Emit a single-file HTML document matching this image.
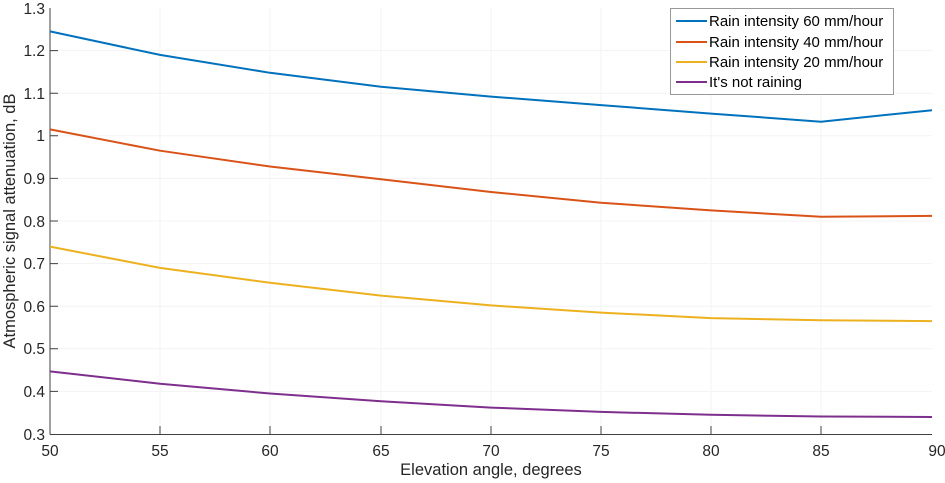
<!DOCTYPE html><html><head><style>body{margin:0;background:#fff}svg{display:block;font-family:"Liberation Sans",sans-serif}</style></head><body>
<svg width="945" height="483" viewBox="0 0 945 483">
<g stroke="#f3f3f3" stroke-width="1">
<line x1="160" y1="8" x2="160" y2="434"/><line x1="270" y1="8" x2="270" y2="434"/><line x1="381" y1="8" x2="381" y2="434"/><line x1="491" y1="8" x2="491" y2="434"/><line x1="601" y1="8" x2="601" y2="434"/><line x1="711" y1="8" x2="711" y2="434"/><line x1="821" y1="8" x2="821" y2="434"/>
<line x1="50" y1="50.6" x2="932" y2="50.6"/><line x1="50" y1="93.2" x2="932" y2="93.2"/><line x1="50" y1="135.8" x2="932" y2="135.8"/><line x1="50" y1="178.4" x2="932" y2="178.4"/><line x1="50" y1="221" x2="932" y2="221"/><line x1="50" y1="263.6" x2="932" y2="263.6"/><line x1="50" y1="306.2" x2="932" y2="306.2"/><line x1="50" y1="348.8" x2="932" y2="348.8"/><line x1="50" y1="391.4" x2="932" y2="391.4"/>
</g>
<g stroke="#404040" stroke-width="1"><line x1="50" y1="8" x2="50" y2="434.5"/><line x1="50" y1="434.5" x2="932" y2="434.5"/>
<path d="M160 434v-8M270 434v-8M381 434v-8M491 434v-8M601 434v-8M711 434v-8M821 434v-8M50 50.6h8M50 93.2h8M50 135.8h8M50 178.4h8M50 221h8M50 263.6h8M50 306.2h8M50 348.8h8M50 391.4h8"/></g>
<g font-size="15.5" fill="#262626" text-anchor="end">
<text x="45" y="14">1.3</text><text x="45" y="56">1.2</text><text x="45" y="99">1.1</text><text x="45" y="141">1</text><text x="45" y="184">0.9</text><text x="45" y="227">0.8</text><text x="45" y="269">0.7</text><text x="45" y="312">0.6</text><text x="45" y="354">0.5</text><text x="45" y="397">0.4</text><text x="45" y="440">0.3</text></g>
<g font-size="15.5" fill="#262626" text-anchor="middle">
<text x="50" y="456">50</text><text x="160" y="456">55</text><text x="270" y="456">60</text><text x="381" y="456">65</text><text x="491" y="456">70</text><text x="601" y="456">75</text><text x="711" y="456">80</text><text x="821" y="456">85</text><text x="937" y="456">90</text>
<text x="491" y="475" font-size="16.5">Elevation angle, degrees</text>
<text transform="translate(15,221) rotate(-90)" font-size="16.5">Atmospheric signal attenuation, dB</text></g>
<g fill="none" stroke-width="2">
<polyline stroke="#0072bd" points="50,31.4 160,54.9 270,72.8 381,86.8 491,96.6 601,105.1 711,113.6 821,121.7 932,110.2"/>
<polyline stroke="#d95319" points="50,129.4 160,150.7 270,166.5 381,179.3 491,192 601,202.7 711,210.4 821,216.7 932,215.9"/>
<polyline stroke="#edb120" points="50,246.6 160,267.9 270,282.8 381,295.6 491,305.4 601,312.6 711,318.1 821,320.3 932,321.1"/>
<polyline stroke="#7e2f8e" points="50,371.4 160,383.7 270,393.5 381,401.2 491,407.6 601,411.9 711,414.8 821,416.5 932,417"/>
</g>
<rect x="670.5" y="8.5" width="223" height="86" fill="#fff" stroke="#999"/>
<g stroke-width="2"><line x1="676" y1="21" x2="707" y2="21" stroke="#0072bd"/><line x1="676" y1="42" x2="707" y2="42" stroke="#d95319"/><line x1="676" y1="62" x2="707" y2="62" stroke="#edb120"/><line x1="676" y1="82" x2="707" y2="82" stroke="#7e2f8e"/></g>
<g font-size="15" fill="#000"><text x="709" y="26">Rain intensity 60 mm/hour</text><text x="709" y="47">Rain intensity 40 mm/hour</text><text x="709" y="67">Rain intensity 20 mm/hour</text><text x="709" y="87">It's not raining</text></g>
</svg></body></html>
